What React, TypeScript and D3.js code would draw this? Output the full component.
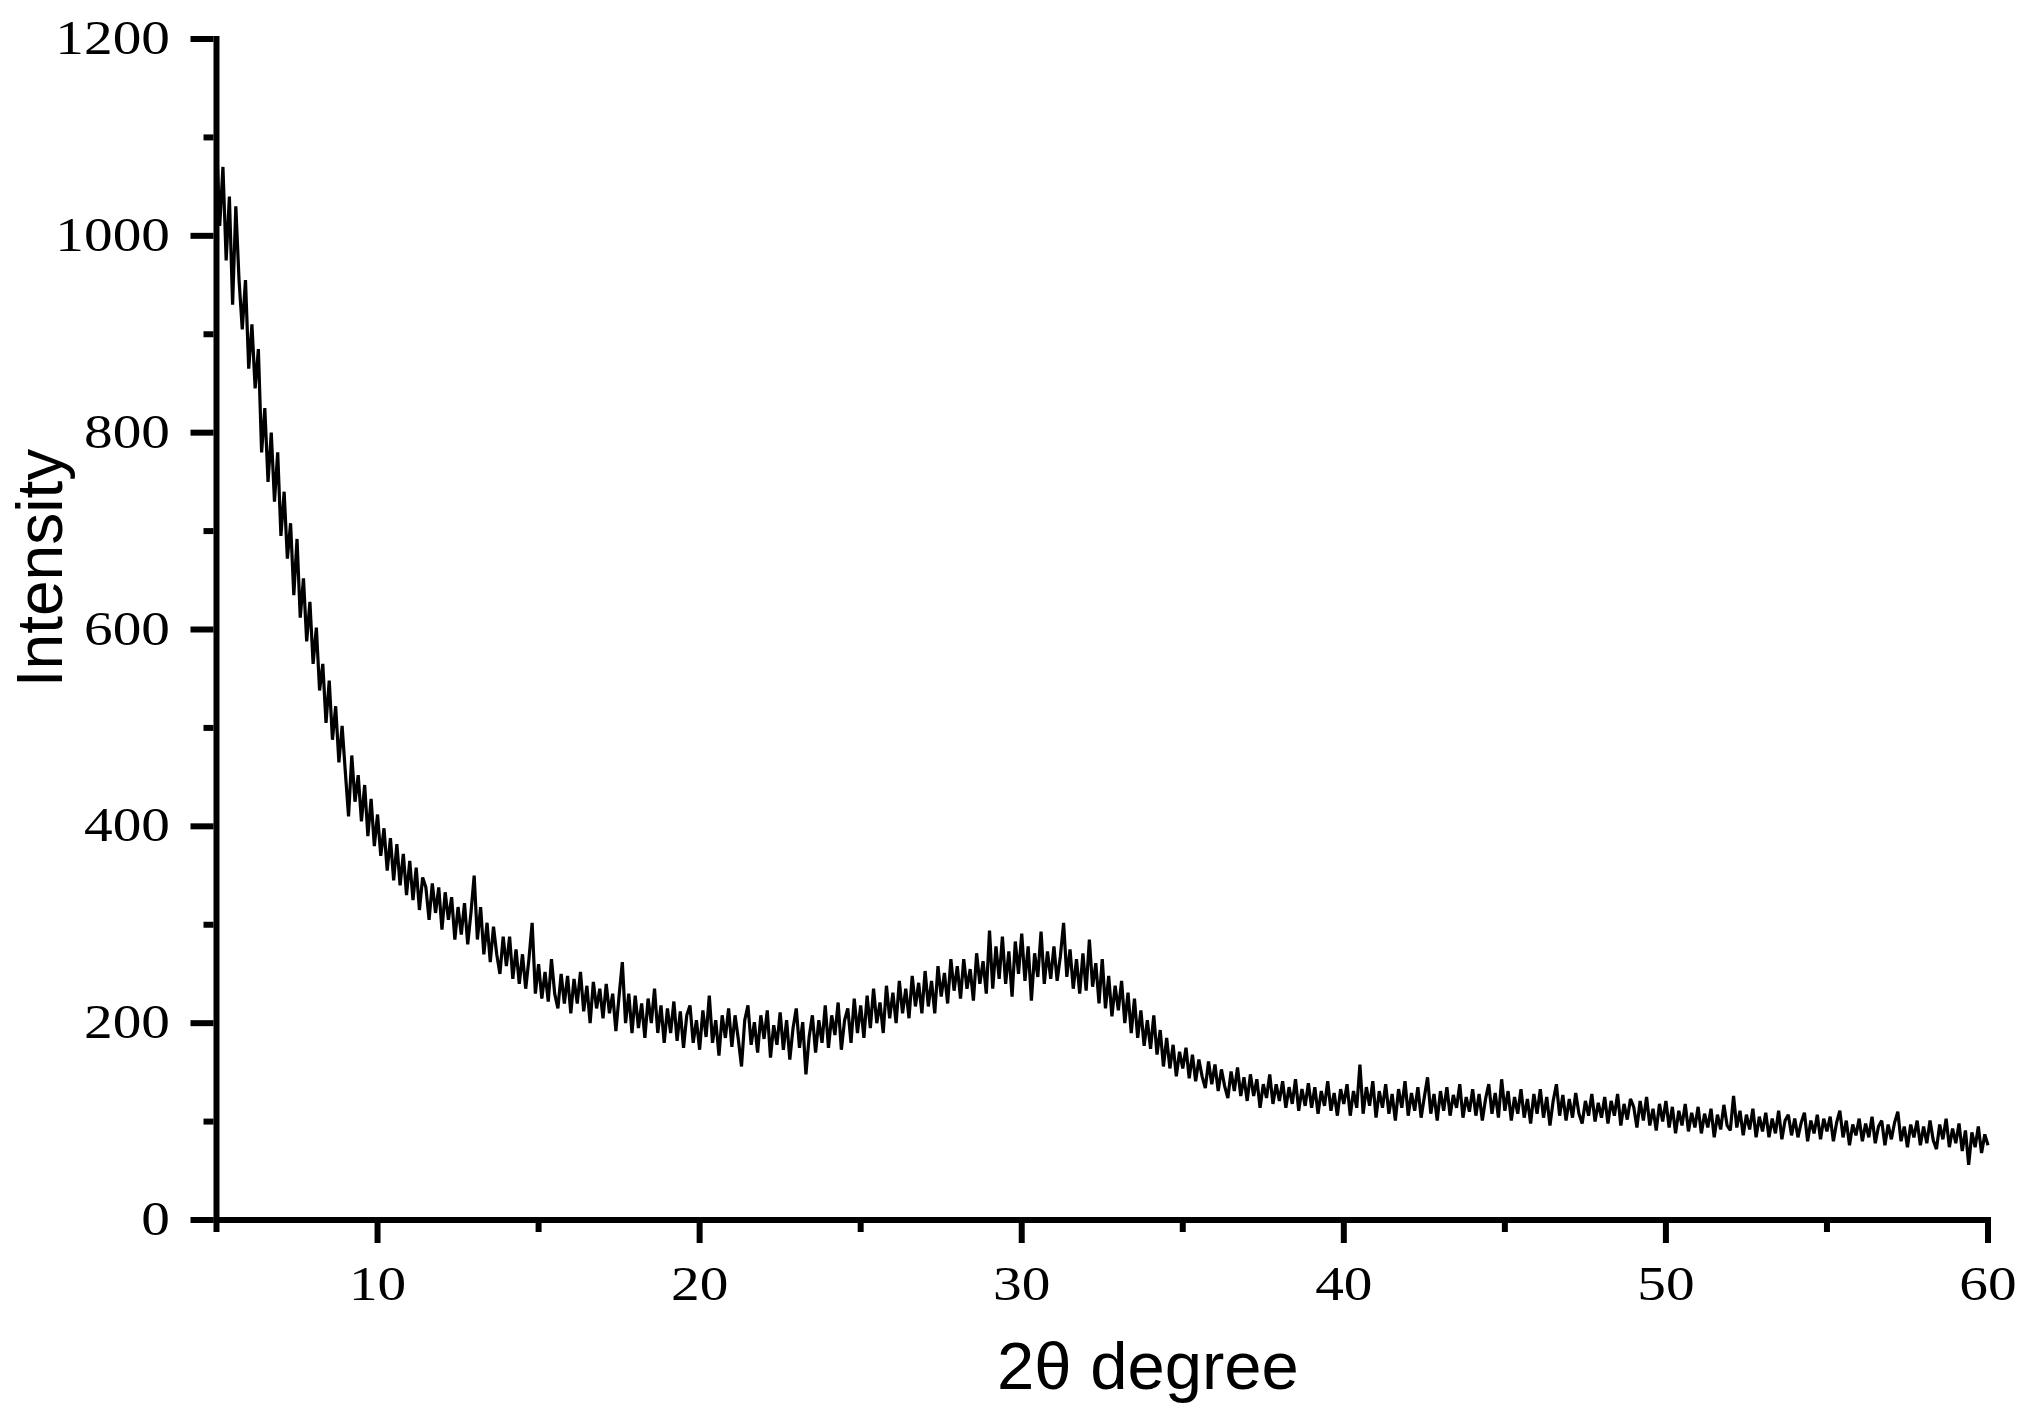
import React from "react";
import * as d3 from "d3";

// 2θ sampling: start, step (degrees)
const twoThetaStart = 5;
const twoThetaStep = 0.1;

// Intensity values, 0.1° apart
const intensity5to10 = [
  1095, 1010, 1070, 975, 1040, 930, 1030, 955, 905, 955,
  865, 910, 845, 885, 780, 825, 750, 800, 730, 780,
  695, 740, 672, 708, 635, 692, 612, 652, 588, 628,
  565, 602, 538, 565, 505, 548, 488, 522, 465, 502,
  455, 410, 472, 425, 452, 405, 442, 390, 428, 380,
];
const intensity10to20 = [
  412, 370, 398, 355, 388, 345, 382, 340, 372, 330,
  365, 325, 358, 315, 348, 338, 305, 342, 312, 338,
  295, 333, 305, 328, 285, 318, 290, 322, 280, 312,
  350, 285, 318, 270, 302, 262, 298, 270, 250, 288,
  258, 288, 245, 275, 240, 270, 235, 265, 302, 230,
  260, 225, 252, 222, 265, 230, 215, 250, 220, 248,
  210, 245, 220, 252, 212, 238, 200, 242, 215, 235,
  205, 240, 210, 230, 192, 228, 262, 200, 230, 190,
  228, 195, 220, 185, 225, 200, 235, 190, 218, 180,
  215, 190, 222, 182, 212, 175, 208, 218, 180, 203,
  ];
const intensity20to30 = [
  173, 213, 186, 228, 180, 203, 167, 208, 185, 215,
  176, 208, 184, 156, 203, 218, 178, 201, 170, 208,
  184, 213, 165, 198, 178, 211, 173, 203, 163, 195,
  215, 175, 201, 148, 186, 208, 170, 203, 180, 218,
  175, 208, 188, 221, 173, 203, 215, 180, 225, 190,
  218, 185, 228, 195, 235, 200, 221, 190, 238, 205,
  231, 200, 243, 210, 235, 205, 248, 217, 241, 210,
  253, 217, 243, 210, 258, 227, 251, 220, 265, 233,
  258, 225, 265, 235, 255, 223, 271, 240, 263, 230,
  294, 235, 278, 245, 288, 240, 273, 227, 283, 250,
];
const intensity30to40 = [
  291, 243, 278, 223, 271, 247, 293, 240, 273, 245,
  278, 243, 268, 302, 247, 275, 235, 265, 230, 271,
  233, 285, 237, 261, 220, 265, 215, 248, 207, 238,
  213, 243, 200, 231, 190, 225, 185, 213, 177, 203,
  174, 208, 168, 193, 156, 185, 154, 178, 146, 171,
  154, 175, 144, 168, 141, 163, 146, 134, 161, 138,
  158, 131, 153, 136, 124, 151, 131, 155, 126, 145,
  121, 148, 126, 143, 114, 138, 124, 148, 118, 138,
  121, 141, 114, 135, 118, 143, 111, 133, 116, 139,
  114, 135, 108, 131, 116, 141, 111, 129, 106, 133,
];
const intensity40to50 = [
  118, 138, 106, 131, 114, 158, 108, 135, 116, 141,
  104, 131, 114, 138, 108, 128, 101, 133, 114, 141,
  106, 129, 111, 135, 104, 125, 145, 108, 128, 101,
  131, 111, 135, 106, 127, 114, 138, 104, 125, 110,
  133, 106, 128, 101, 123, 138, 108, 129, 104, 143,
  111, 131, 101, 125, 108, 133, 104, 123, 98, 128,
  108, 133, 104, 125, 96, 121, 138, 106, 127, 101,
  123, 104, 129, 108, 98, 121, 106, 128, 100, 119,
  104, 125, 98, 121, 106, 128, 96, 118, 102, 123,
  115, 94, 121, 101, 125, 96, 113, 91, 118, 100,
];
const intensity50to60 = [
  121, 94, 115, 88, 111, 96, 118, 90, 109, 94,
  115, 88, 108, 94, 113, 84, 107, 92, 117, 96,
  91, 126, 94, 111, 86, 107, 92, 113, 84, 105,
  90, 109, 84, 103, 88, 111, 82, 101, 107, 86,
  103, 84, 99, 109, 80, 101, 88, 107, 82, 103,
  90, 105, 80, 99, 111, 84, 101, 76, 97, 86,
  103, 80, 98, 84, 105, 78, 95, 101, 76, 97,
  82, 99, 110, 80, 95, 74, 97, 84, 101, 76,
  95, 78, 101, 81, 72, 97, 82, 103, 74, 93,
  78, 98, 70, 91, 56, 89, 74, 95, 68, 87,
  76,
];

const xMajorTicks = [10, 20, 30, 40, 50, 60];
const xMinorTicks = [5, 15, 25, 35, 45, 55];
const yMajorTicks = [0, 200, 400, 600, 800, 1000, 1200];
const yMinorTicks = [100, 300, 500, 700, 900, 1100];

const xTitle = "2θ degree";
const yTitle = "Intensity";

export default function App() {
  const width = 2024;
  const height = 1411;

  const intensity = [
    ...intensity5to10,
    ...intensity10to20,
    ...intensity20to30,
    ...intensity30to40,
    ...intensity40to50,
    ...intensity50to60,
  ];
  const data = intensity.map((v, i) => ({ x: twoThetaStart + i * twoThetaStep, y: v }));

  const x = d3.scaleLinear().domain([5, 60]).range([216.5, 1988]);
  const y = d3.scaleLinear().domain([0, 1200]).range([1220, 39]);

  const line = d3
    .line<{ x: number; y: number }>()
    .x((d) => x(d.x))
    .y((d) => y(d.y));

  const axisW = 6;
  const axisLeft = x(5) - axisW / 2;
  const axisBottom = y(0) + axisW / 2;
  const serif = "'Liberation Serif', 'Times New Roman', serif";
  const sans = "'Liberation Sans', Arial, sans-serif";
  const stretch = 1.17;

  return (
    <svg
      width={width}
      height={height}
      style={{ position: "absolute", left: 0, top: 0, background: "#fff" }}
    >
      <rect x={0} y={0} width={width} height={height} fill="#fff" />
      {/* data */}
      <path d={line(data) || ""} fill="none" stroke="#000" strokeWidth={3.2} strokeLinejoin="miter" strokeMiterlimit={3} />

      {/* axes */}
      <line x1={x(5)} x2={x(5)} y1={y(1200) - 3} y2={axisBottom} stroke="#000" strokeWidth={axisW} />
      <line x1={axisLeft} x2={x(60) + 3} y1={y(0)} y2={y(0)} stroke="#000" strokeWidth={axisW} />

      {/* y ticks */}
      {yMajorTicks.map((t) => (
        <line key={"ym" + t} x1={axisLeft - 23} x2={axisLeft} y1={y(t)} y2={y(t)} stroke="#000" strokeWidth={axisW} />
      ))}
      {yMinorTicks.map((t) => (
        <line key={"yn" + t} x1={axisLeft - 10} x2={axisLeft} y1={y(t)} y2={y(t)} stroke="#000" strokeWidth={axisW} />
      ))}
      {/* x ticks */}
      {xMajorTicks.map((t) => (
        <line key={"xm" + t} x1={x(t)} x2={x(t)} y1={axisBottom} y2={axisBottom + 20} stroke="#000" strokeWidth={axisW} />
      ))}
      {xMinorTicks.map((t) => (
        <line key={"xn" + t} x1={x(t)} x2={x(t)} y1={axisBottom} y2={axisBottom + 9} stroke="#000" strokeWidth={axisW} />
      ))}

      {/* tick labels */}
      {yMajorTicks.map((t) => (
        <g key={"yl" + t} transform={`translate(170,${y(t) + 15}) scale(${stretch},1)`}>
          <text x={0} y={0} textAnchor="end" fontFamily={serif} fontSize={49} fill="#000">
            {t}
          </text>
        </g>
      ))}
      {xMajorTicks.map((t) => (
        <g key={"xl" + t} transform={`translate(${x(t)},1300) scale(${stretch},1)`}>
          <text x={0} y={0} textAnchor="middle" fontFamily={serif} fontSize={49} fill="#000">
            {t}
          </text>
        </g>
      ))}

      {/* titles */}
      <text x={1148} y={1389} textAnchor="middle" fontFamily={sans} fontSize={67} fill="#000">
        {xTitle}
      </text>
      <text
        transform={`translate(62,568) rotate(-90)`}
        textAnchor="middle"
        fontFamily={sans}
        fontSize={64}
        fill="#000"
      >
        {yTitle}
      </text>
    </svg>
  );
}
